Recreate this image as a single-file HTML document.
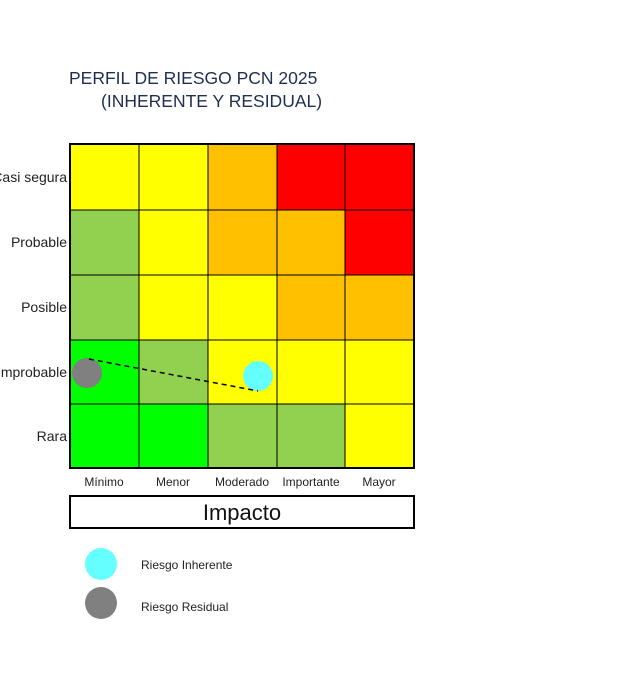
<!DOCTYPE html>
<html><head><meta charset="utf-8"><style>
body{margin:0;background:#fff;width:621px;height:692px;overflow:hidden;font-family:"Liberation Sans",sans-serif;}
</style></head><body>
<svg width="621" height="692" xmlns="http://www.w3.org/2000/svg" font-family="Liberation Sans, sans-serif">
<text x="69" y="84" font-size="17.5" fill="#1f2f4f">PERFIL DE RIESGO PCN 2025</text>
<text x="101" y="107" font-size="17.5" fill="#1f2f4f">(INHERENTE Y RESIDUAL)</text>
<g stroke="#000" stroke-width="1">
<rect x="70" y="144" width="69" height="66" fill="#ffff00"/>
<rect x="139" y="144" width="69" height="66" fill="#ffff00"/>
<rect x="208" y="144" width="69" height="66" fill="#ffc000"/>
<rect x="277" y="144" width="68" height="66" fill="#ff0000"/>
<rect x="345" y="144" width="69" height="66" fill="#ff0000"/>
<rect x="70" y="210" width="69" height="65" fill="#92d050"/>
<rect x="139" y="210" width="69" height="65" fill="#ffff00"/>
<rect x="208" y="210" width="69" height="65" fill="#ffc000"/>
<rect x="277" y="210" width="68" height="65" fill="#ffc000"/>
<rect x="345" y="210" width="69" height="65" fill="#ff0000"/>
<rect x="70" y="275" width="69" height="65" fill="#92d050"/>
<rect x="139" y="275" width="69" height="65" fill="#ffff00"/>
<rect x="208" y="275" width="69" height="65" fill="#ffff00"/>
<rect x="277" y="275" width="68" height="65" fill="#ffc000"/>
<rect x="345" y="275" width="69" height="65" fill="#ffc000"/>
<rect x="70" y="340" width="69" height="64" fill="#00ff00"/>
<rect x="139" y="340" width="69" height="64" fill="#92d050"/>
<rect x="208" y="340" width="69" height="64" fill="#ffff00"/>
<rect x="277" y="340" width="68" height="64" fill="#ffff00"/>
<rect x="345" y="340" width="69" height="64" fill="#ffff00"/>
<rect x="70" y="404" width="69" height="64" fill="#00ff00"/>
<rect x="139" y="404" width="69" height="64" fill="#00ff00"/>
<rect x="208" y="404" width="69" height="64" fill="#92d050"/>
<rect x="277" y="404" width="68" height="64" fill="#92d050"/>
<rect x="345" y="404" width="69" height="64" fill="#ffff00"/>
</g>
<rect x="70" y="144" width="344" height="324" fill="none" stroke="#000" stroke-width="2"/>
<g font-size="14" fill="#222" text-anchor="end">
<text x="67" y="182">Casi segura</text>
<text x="67" y="247">Probable</text>
<text x="67" y="312">Posible</text>
<text x="67" y="377">Improbable</text>
<text x="67" y="441">Rara</text>
</g>
<circle cx="87" cy="373" r="15" fill="#808080"/>
<circle cx="258" cy="376" r="15" fill="#66ffff"/>
<line x1="89" y1="359" x2="258" y2="391" stroke="#000" stroke-width="1.5" stroke-dasharray="5,4"/>
<g font-size="12" fill="#222" text-anchor="middle">
<text x="104" y="486">Mínimo</text>
<text x="173" y="486">Menor</text>
<text x="242" y="486">Moderado</text>
<text x="311" y="486">Importante</text>
<text x="379" y="486">Mayor</text>
</g>
<rect x="70" y="496" width="344" height="32" fill="#fff" stroke="#000" stroke-width="2"/>
<text x="242" y="520" font-size="22" text-anchor="middle" fill="#111">Impacto</text>
<circle cx="101" cy="564" r="16" fill="#66ffff"/>
<circle cx="101" cy="603" r="16" fill="#808080"/>
<text x="141" y="569" font-size="12" fill="#222">Riesgo Inherente</text>
<text x="141" y="611" font-size="12" fill="#222">Riesgo Residual</text>
</svg>
</body></html>
